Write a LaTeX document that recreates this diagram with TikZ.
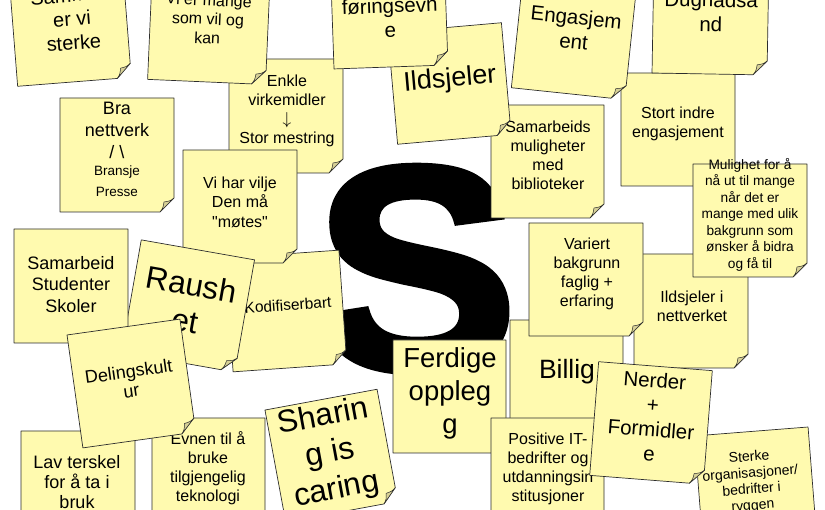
\documentclass[tikz,border=0pt]{standalone}
\usepackage{fontspec}
\setmainfont{Liberation Sans}[Ligatures=TeXOff]
\newfontfamily\heavyS{Liberation Sans Bold}[FakeBold=2.5]
\usetikzlibrary{calc}

\definecolor{notefill}{RGB}{255,250,175}
\definecolor{flapfill}{RGB}{214,208,150}
\definecolor{noteline}{RGB}{45,45,45}

\tikzset{
  paper/.style={draw=noteline, line width=0.7pt, fill=notefill, line join=round},
  flap/.style={draw=noteline, line width=0.5pt, fill=flapfill, line join=round},
  notetext/.style={align=center, inner sep=0pt},
  bigS/.style={inner sep=0pt, font=\fontsize{290}{290}\heavyS},
}

\newcommand{\fs}[2]{\fontsize{#1}{#2}\selectfont}

% sticky note: name, centre, width, height, angle
\newcommand{\postit}[5]{%
  \begin{scope}[shift={#2}, rotate=#5]
    \draw[paper] (-#3/2,-#4/2) -- (#3/2,-#4/2) -- (#3/2,#4/2-14) -- (#3/2-14,#4/2) -- (-#3/2,#4/2) -- cycle;
    \draw[flap] (#3/2-14,#4/2) .. controls (#3/2-11,#4/2-4) .. (#3/2-10,#4/2-10)
      .. controls (#3/2-4,#4/2-11) .. (#3/2,#4/2-14) -- cycle;
    \coordinate (#1) at (0,0);
  \end{scope}}

\begin{document}
\begin{tikzpicture}[x=1pt, y=-1pt]
\useasboundingbox (0,0) rectangle (825,510);
\fill[white] (0,0) rectangle (825,510);

% the big letter
\node[bigS, xscale=1.05] (bigS) at (416,269) {S};

% top row
\postit{samarbeids}{(547.5,161.5)}{113}{113}{0}
\node[notetext, font=\fs{16}{19}] (samarbeidsTxt) at (548,155.5) {Samarbeids\\muligheter\\med\\biblioteker};

\postit{ildsjeler}{(449.5,83.5)}{114}{112}{5}
\node[notetext, font=\fs{27}{32}, rotate=5] (ildsjelerTxt) at (450,80) {Ildsjeler};

\postit{enkle}{(286,116)}{114}{114}{0}
\node[notetext, font=\fs{16}{19}] (enkleTxt) at (287,110.5) {Enkle\\virkemidler\\$\downarrow$\\Stor mestring};

\postit{gjennom}{(389,10)}{114}{114}{2}
\node[notetext, font=\fs{20.5}{24.5}, rotate=2] (gjennomTxt) at (390,18) {føringsevn\\e};

\postit{mange}{(209,26)}{118}{112}{-2.5}
\node[notetext, font=\fs{16}{19}, rotate=-2.5] (mangeTxt) at (208,19) {Vi er mange\\som vil og\\kan};

\postit{sammen}{(70,25)}{114}{114}{4.5}
\node[notetext, font=\fs{20}{24}, rotate=4.5] (sammenTxt) at (72,19) {Sammen\\er vi\\sterke};

\postit{nettverk}{(117,155)}{114}{114}{0}
\node[notetext, font=\fs{18}{22}] (nettverkTxt) at (117,130) {Bra\\nettverk\\/ \textbackslash};
\node[notetext, font=\fs{13.5}{21}] (bransjeTxt) at (117,181.5) {Bransje\\Presse};

\postit{indre}{(678,129.5)}{114}{113}{0}
\node[notetext, font=\fs{16}{19}] (indreTxt) at (678,123.5) {Stort indre\\engasjement};

\postit{dugnad}{(710.5,17)}{115}{114}{-1}
\node[notetext, font=\fs{20.5}{24.5}, rotate=-1] (dugnadTxt) at (711,12) {Dugnadsa\\nd};

\postit{engasjement}{(574,37)}{114}{114}{-6}
\node[notetext, font=\fs{20.5}{24.5}, rotate=-6] (engasjementTxt) at (575,29.5) {Engasjem\\ent};

% right side
\postit{nettverket}{(691,311)}{114}{114}{0}
\node[notetext, font=\fs{16}{19}] (nettverketTxt) at (692,306) {Ildsjeler i\\nettverket};

\postit{mulighet}{(750,220.5)}{114}{113}{0}
\node[notetext, font=\fs{13.7}{16.5}] (mulighetTxt) at (750,214.5) {Mulighet for å\\nå ut til mange\\når det er\\mange med ulik\\bakgrunn som\\ønsker å bidra\\og få til};

\postit{billig}{(566.5,376.5)}{113}{113}{0}
\node[notetext, font=\fs{26.5}{32}] (billigTxt) at (567,372) {Billig};

\postit{variert}{(586,279.5)}{114}{113}{0}
\node[notetext, font=\fs{16}{19}] (variertTxt) at (587,273.5) {Variert\\bakgrunn\\faglig +\\erfaring};

% left side
\postit{kodifiserbart}{(286,311)}{114}{114}{4}
\node[notetext, font=\fs{15.5}{19}, rotate=4] (kodifiserbartTxt) at (288,305) {Kodifiserbart};

\postit{vilje}{(240,206.5)}{114}{113}{0}
\node[notetext, font=\fs{16}{19.5}] (viljeTxt) at (240,202) {Vi har vilje\\Den må\\"møtes"};

\postit{raushet}{(188,306)}{115}{114}{-10}
\node[notetext, font=\fs{31.5}{37}, rotate=-10] (raushetTxt) at (188.5,302.5) {Raush\\et};

\postit{studenter}{(71,286)}{114}{114}{0}
\node[notetext, font=\fs{18}{21.5}] (studenterTxt) at (71,284.5) {Samarbeid\\Studenter\\Skoler};

% bottom row
\postit{terskel}{(78,488)}{114}{114}{0}
\node[notetext, font=\fs{18}{20}] (terskelTxt) at (77,482) {Lav terskel\\for å ta i\\bruk};

\postit{evnen}{(208.5,474.5)}{113}{113}{0}
\node[notetext, font=\fs{16}{19}] (evnenTxt) at (208,468.5) {Evnen til å\\bruke\\tilgjengelig\\teknologi};

\postit{deling}{(131.4,383.5)}{114}{114}{8}
\node[notetext, font=\fs{18}{19.5}, rotate=8] (delingTxt) at (130,381) {Delingskult\\ur};

\postit{sharing}{(331.4,455.7)}{114}{114}{10.5}
\node[notetext, font=\fs{31.5}{37}, rotate=10.5] (sharingTxt) at (330,454) {Sharin\\g is\\caring};

\postit{ferdige}{(449.5,396.5)}{113}{113}{0}
\node[notetext, font=\fs{27.5}{33}] (ferdigeTxt) at (450,393.5) {Ferdige\\oppleg\\g};

\postit{positive}{(547.5,474.5)}{113}{113}{0}
\node[notetext, font=\fs{16}{19}] (positiveTxt) at (548,468.5) {Positive IT-\\bedrifter og\\utdanningsin\\stitusjoner};

\postit{sterke}{(755.7,488.3)}{114}{114}{4.5}
\node[notetext, font=\fs{14}{16.3}, rotate=4.5] (sterkeTxt) at (751,482) {Sterke\\organisasjoner/\\bedrifter i\\ryggen};

\postit{nerder}{(651,423)}{114}{114}{-4.5}
\node[notetext, font=\fs{20.5}{24.5}, rotate=-4.5] (nerderTxt) at (652,417) {Nerder\\+\\Formidler\\e};
\end{tikzpicture}
\end{document}
